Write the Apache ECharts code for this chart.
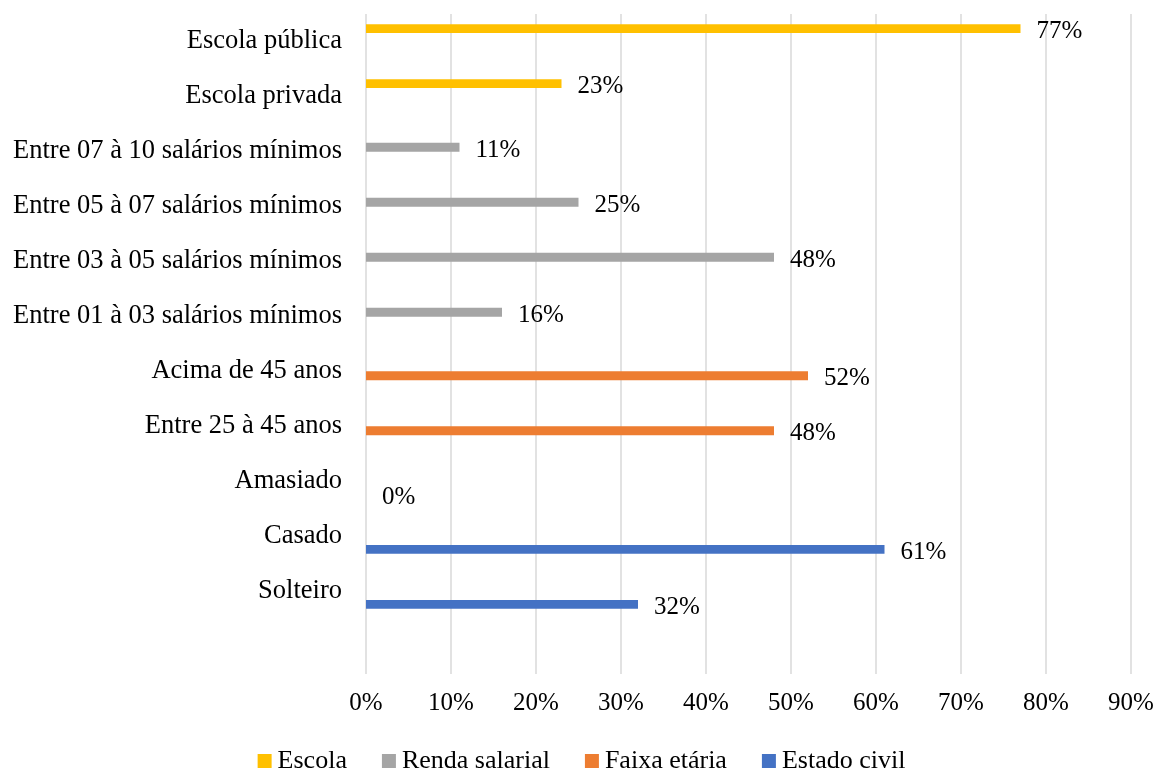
<!DOCTYPE html>
<html>
<head>
<meta charset="utf-8">
<title>Perfil dos respondentes</title>
<script src="https://cdn.jsdelivr.net/npm/echarts@6/dist/echarts.min.js"></script>
<style>
  html, body { margin: 0; padding: 0; background: #ffffff; }
  #chart { width: 1163px; height: 768px; }
</style>
</head>
<body>
<div id="chart"></div>
<script>
// Categories, bottom to top (first row left blank)
const categories = [
  '',
  'Solteiro',
  'Casado',
  'Amasiado',
  'Entre 25 à 45 anos',
  'Acima de 45 anos',
  'Entre 01 à 03 salários mínimos',
  'Entre 03 à 05 salários mínimos',
  'Entre 05 à 07 salários mínimos',
  'Entre 07 à 10 salários mínimos',
  'Escola privada',
  'Escola pública'
];

// Percentages per group (null where a group has no entry)
const escola        = [null, null, null, null, null, null, null, null, null, null, 23, 77];
const rendaSalarial = [null, null, null, null, null, null, 16, 48, 25, 11, null, null];
const faixaEtaria   = [null, null, null, null, 48, 52, null, null, null, null, null, null];
const estadoCivil   = [null, 32, 61, 0, null, null, null, null, null, null, null, null];

const xTicks = { min: 0, max: 90, interval: 10 };

const FONT = 'Liberation Serif';
const groups = [
  { name: 'Escola', data: escola, color: '#FFC000' },
  { name: 'Renda salarial', data: rendaSalarial, color: '#A5A5A5' },
  { name: 'Faixa etária', data: faixaEtaria, color: '#ED7D31' },
  { name: 'Estado civil', data: estadoCivil, color: '#4472C4' }
];

const chart = echarts.init(document.getElementById('chart'), null, { renderer: 'canvas' });

chart.setOption({
  animation: false,
  backgroundColor: '#ffffff',
  textStyle: { fontFamily: FONT, color: '#000000' },
  grid: { left: 366, right: 32, top: 14, bottom: 94, containLabel: false },
  legend: {
    top: 743,
    left: 'center',
    icon: 'rect',
    itemWidth: 14,
    itemHeight: 14,
    itemGap: 35,
    textStyle: { fontFamily: FONT, fontSize: 26, color: '#000000', padding: [0, 0, 0, 1] },
    data: groups.map(g => g.name)
  },
  xAxis: {
    type: 'value',
    min: xTicks.min,
    max: xTicks.max,
    interval: xTicks.interval,
    axisLine: { show: false },
    axisTick: { show: false },
    axisLabel: { formatter: '{value}%', fontFamily: FONT, fontSize: 25, color: '#000000', margin: 17 },
    splitLine: { show: true, lineStyle: { color: '#D9D9D9', width: 1.5 } }
  },
  yAxis: {
    type: 'category',
    data: categories,
    axisLine: { show: false },
    axisTick: { show: false },
    splitLine: { show: false },
    axisLabel: { fontFamily: FONT, fontSize: 26.5, color: '#000000', margin: 24, interval: 0 }
  },
  series: groups.map(g => ({
    name: g.name,
    type: 'bar',
    data: g.data,
    barWidth: 8.8,
    barGap: '-3%',
    itemStyle: { color: g.color },
    label: {
      show: true,
      position: 'right',
      distance: 16,
      formatter: '{c}%',
      fontFamily: FONT,
      fontSize: 25,
      color: '#000000',
      offset: [0, 3]
    }
  }))
});
</script>
</body>
</html>
